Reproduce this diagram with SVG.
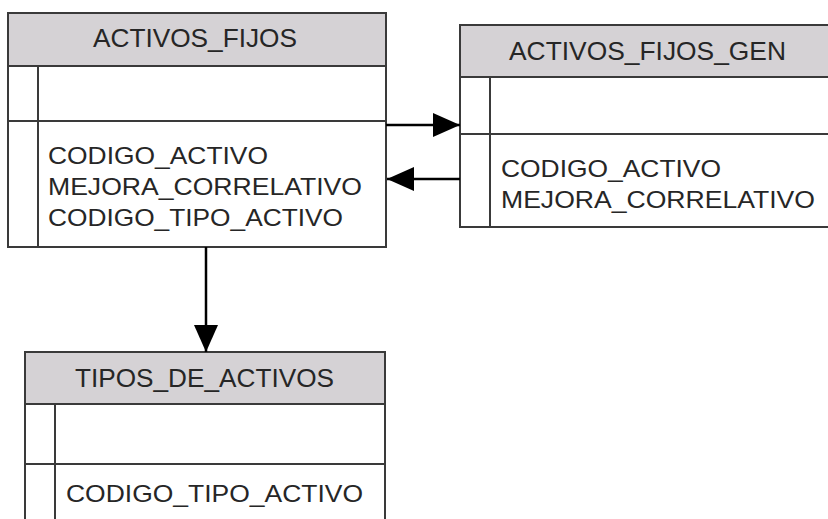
<svg xmlns="http://www.w3.org/2000/svg" width="828" height="519" viewBox="0 0 828 519">
<style>
.box{fill:#fff;stroke:#3a3a3a;stroke-width:2}
.hdr{fill:#d5d2d5;stroke:#3a3a3a;stroke-width:2}
.ln{stroke:#3a3a3a;stroke-width:2;fill:none}
.t{font-family:"Liberation Sans",Arial,sans-serif;font-size:24px;fill:#262626}
.h{font-size:25px}
.c{stroke:#000;stroke-width:2.5;fill:none}
</style>
<defs>
<marker id="ah" markerWidth="27" markerHeight="24" refX="27" refY="12" orient="auto" markerUnits="userSpaceOnUse">
<path d="M0,0 L27,12 L0,24 Z" fill="#000"/>
</marker>
</defs>
<rect width="828" height="519" fill="#fff"/>
<g id="activos_fijos">
<rect class="box" x="8" y="13" width="378" height="234"/>
<rect class="hdr" x="8" y="13" width="378" height="53"/>
<line class="ln" x1="38" y1="66" x2="38" y2="247"/>
<line class="ln" x1="8" y1="121" x2="386" y2="121"/>
<text class="t h" x="93" y="46.5" textLength="204" lengthAdjust="spacingAndGlyphs">ACTIVOS_FIJOS</text>
<text class="t" x="48" y="164" textLength="220" lengthAdjust="spacingAndGlyphs">CODIGO_ACTIVO</text>
<text class="t" x="48" y="195" textLength="314" lengthAdjust="spacingAndGlyphs">MEJORA_CORRELATIVO</text>
<text class="t" x="48" y="226" textLength="295" lengthAdjust="spacingAndGlyphs">CODIGO_TIPO_ACTIVO</text>
</g>
<g id="activos_fijos_gen">
<rect class="box" x="460" y="25" width="378" height="202"/>
<rect class="hdr" x="460" y="25" width="378" height="52"/>
<line class="ln" x1="490" y1="77" x2="490" y2="227"/>
<line class="ln" x1="460" y1="134" x2="838" y2="134"/>
<text class="t h" x="509" y="60" textLength="277" lengthAdjust="spacingAndGlyphs">ACTIVOS_FIJOS_GEN</text>
<text class="t" x="501" y="177" textLength="220" lengthAdjust="spacingAndGlyphs">CODIGO_ACTIVO</text>
<text class="t" x="501" y="208" textLength="314" lengthAdjust="spacingAndGlyphs">MEJORA_CORRELATIVO</text>
</g>
<g id="tipos_de_activos">
<rect class="box" x="25" y="352" width="360" height="180"/>
<rect class="hdr" x="25" y="352" width="360" height="52"/>
<line class="ln" x1="55" y1="404" x2="55" y2="532"/>
<line class="ln" x1="25" y1="464" x2="385" y2="464"/>
<text class="t h" x="75" y="387" textLength="259" lengthAdjust="spacingAndGlyphs">TIPOS_DE_ACTIVOS</text>
<text class="t" x="66" y="502" textLength="297" lengthAdjust="spacingAndGlyphs">CODIGO_TIPO_ACTIVO</text>
</g>
<g id="connectors">
<line class="c" x1="386" y1="125" x2="460" y2="125" marker-end="url(#ah)"/>
<line class="c" x1="460" y1="179" x2="387" y2="179" marker-end="url(#ah)"/>
<line class="c" x1="206" y1="247" x2="206" y2="352" marker-end="url(#ah)"/>
</g>
</svg>
